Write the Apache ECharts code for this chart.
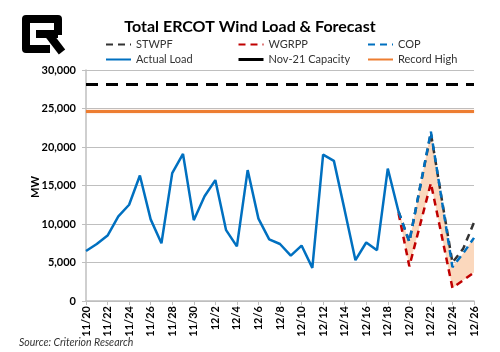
<!DOCTYPE html>
<html>
<head>
<meta charset="utf-8">
<script src="https://cdn.jsdelivr.net/npm/echarts@6/dist/echarts.min.js"></script>
<style>
  html, body { margin: 0; background: #fff; }
  #chart { width: 500px; height: 352px; }
</style>
</head>
<body>
<div id="chart"></div>
<script>
"use strict";

// dates 11/20 .. 12/26
const dates = [
  '11/20', '11/21', '11/22', '11/23', '11/24', '11/25', '11/26', '11/27', '11/28', '11/29', '11/30',
  '12/1', '12/2', '12/3', '12/4', '12/5', '12/6', '12/7', '12/8', '12/9', '12/10', '12/11', '12/12',
  '12/13', '12/14', '12/15', '12/16', '12/17', '12/18', '12/19', '12/20', '12/21', '12/22', '12/23',
  '12/24', '12/25', '12/26',
];

const actualLoad = [
  6500, 7400, 8500, 11000, 12500, 16300, 10600, 7500, 16600, 19100, 10500,
  13600, 15700, 9200, 7100, 17000, 10700, 8000, 7400, 5900, 7200, 4300, 19000,
  18200, 11800, 5300, 7600, 6600, 17200, 11600, null, null, null, null,
  null, null, null,
];

// forecasts start on 12/19
const forecastStart = 29;
const stwpf = [11600, 7700, 14800, 21800, 13300, 5000, 6800, 10200];
const wgrpp = [11400, 4500, 9900, 15300, 8500, 1700, 2700, 3700];
const cop = [11600, 7700, 14800, 22000, 13200, 4400, 6200, 8200];

const capacity = 28200;
const recordHigh = 24700;

const yTicks = { min: 0, max: 30000, interval: 5000 };

function pad(arr) {
  const out = [];
  for (let i = 0; i < forecastStart; i++) out.push('-');
  return out.concat(arr);
}

const bandBase = pad(wgrpp);
const bandFill = pad(cop.map((v, i) => v - wgrpp[i]));

const chart = echarts.init(document.getElementById('chart'));

const FONT = 'Lato';
const dash = [7, 5];

const legendCommon = {
  orient: 'vertical',
  top: 34,
  itemGap: 4,
  itemWidth: 25,
  itemHeight: 12,
  itemStyle: { opacity: 0 },
  textStyle: { fontSize: 11, color: '#333', fontFamily: FONT },
};

const logoStroke = { fill: null, stroke: '#000', lineWidth: 8, lineJoin: 'round', lineCap: 'butt' };

const option = {
  animation: false,
  textStyle: { fontFamily: FONT },
  title: {
    text: 'Total ERCOT Wind Load & Forecast',
    left: 'center',
    top: 14,
    textStyle: { fontSize: 16, fontWeight: 'bold', color: '#000', fontFamily: FONT },
  },
  legend: [
    Object.assign({ left: 100, data: ['STWPF', 'Actual Load'] }, legendCommon),
    Object.assign({
      left: 232,
      data: ['WGRPP', { name: 'Nov-21 Capacity', lineStyle: { type: 'solid', width: 3 } }],
    }, legendCommon),
    Object.assign({ left: 362, data: ['COP', 'Record High'] }, legendCommon),
  ],
  grid: { left: 86, right: 26, top: 70, bottom: 51 },
  xAxis: {
    type: 'category',
    data: dates,
    boundaryGap: false,
    axisLine: { lineStyle: { color: '#bfbfbf', width: 1.5 } },
    axisTick: { interval: 1, length: 4, lineStyle: { color: '#bfbfbf' } },
    axisLabel: {
      interval: 1,
      rotate: 90,
      margin: 5,
      fontSize: 11,
      fontWeight: 'bold',
      color: '#000',
    },
  },
  yAxis: {
    type: 'value',
    min: yTicks.min,
    max: yTicks.max,
    interval: yTicks.interval,
    axisLine: { show: true, lineStyle: { color: '#bfbfbf', width: 1.5 } },
    axisTick: { show: true, length: 4, lineStyle: { color: '#bfbfbf' } },
    axisLabel: {
      fontSize: 11,
      fontWeight: 'bold',
      color: '#000',
      margin: 10,
      formatter: (v) => v.toLocaleString('en-US'),
    },
    splitLine: { lineStyle: { color: '#bfbfbf', width: 1 } },
  },
  series: [
    {
      name: 'bandBase',
      type: 'line',
      stack: 'band',
      data: bandBase,
      symbol: 'none',
      lineStyle: { opacity: 0 },
      silent: true,
      z: 1,
    },
    {
      name: 'bandFill',
      type: 'line',
      stack: 'band',
      data: bandFill,
      symbol: 'none',
      lineStyle: { opacity: 0 },
      areaStyle: { color: '#FBD8BD', opacity: 1 },
      silent: true,
      z: 1,
    },
    {
      name: 'Actual Load',
      type: 'line',
      data: actualLoad,
      symbol: 'none',
      color: '#0070C0',
      lineStyle: { width: 2.5 },
      z: 3,
    },
    {
      name: 'STWPF',
      type: 'line',
      data: pad(stwpf),
      symbol: 'none',
      color: '#333333',
      lineStyle: { width: 2.5, type: dash },
      z: 4,
    },
    {
      name: 'WGRPP',
      type: 'line',
      data: pad(wgrpp),
      symbol: 'none',
      color: '#C00000',
      lineStyle: { width: 2.5, type: dash },
      z: 5,
    },
    {
      name: 'COP',
      type: 'line',
      data: pad(cop),
      symbol: 'none',
      color: '#0070C0',
      lineStyle: { width: 2.5, type: dash },
      z: 6,
    },
    {
      name: 'Nov-21 Capacity',
      type: 'line',
      data: [],
      symbol: 'none',
      color: '#000000',
      lineStyle: { width: 3, type: [12, 8] },
      markLine: {
        silent: true,
        symbol: 'none',
        label: { show: false },
        lineStyle: { color: '#000', width: 3, type: [12, 8] },
        data: [{ yAxis: capacity }],
      },
    },
    {
      name: 'Record High',
      type: 'line',
      data: [],
      symbol: 'none',
      color: '#ED7D31',
      lineStyle: { width: 3 },
      markLine: {
        silent: true,
        symbol: 'none',
        label: { show: false },
        lineStyle: { color: '#ED7D31', width: 3, type: 'solid', shadowColor: 'rgba(237,125,49,0.4)', shadowBlur: 2 },
        data: [{ yAxis: recordHigh }],
      },
    },
  ],
  graphic: [
    {
      // logo
      type: 'group',
      left: 22,
      top: 15,
      children: [
        {
          type: 'polyline',
          shape: { points: [[36, 20], [36, 4], [4, 4], [4, 34], [28, 34]] },
          style: logoStroke,
        },
        {
          type: 'polyline',
          shape: { points: [[14, 19], [36, 19]] },
          style: logoStroke,
        },
        {
          type: 'polyline',
          shape: { points: [[27, 20], [40, 37]] },
          style: logoStroke,
        },
      ],
    },
    {
      // y axis title
      type: 'text',
      x: 35,
      y: 187,
      rotation: Math.PI / 2,
      style: {
        text: 'MW',
        fontSize: 11,
        fontWeight: 'bold',
        fill: '#000',
        fontFamily: FONT,
        align: 'center',
        verticalAlign: 'middle',
      },
    },
    {
      type: 'text',
      left: 19,
      top: 337,
      style: {
        text: 'Source: Criterion Research',
        fontSize: 10.5,
        fontStyle: 'italic',
        fill: '#333',
        fontFamily: FONT,
      },
    },
  ],
};

chart.setOption(option);
</script>
</body>
</html>
